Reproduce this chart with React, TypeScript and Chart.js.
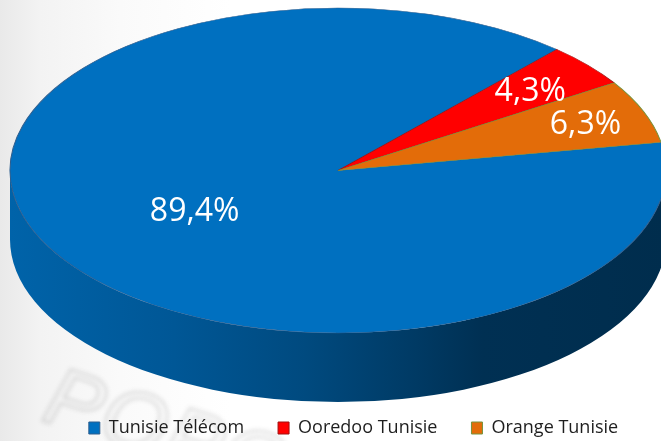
import React, { useEffect, useRef } from 'react';
import { Chart, registerables } from 'chart.js';

Chart.register(...registerables);

// ---- data ----
const categories = ['Tunisie Télécom', 'Ooredoo Tunisie', 'Orange Tunisie'];
const shares = [89.4, 4.3, 6.3];
const valueLabels = ['89,4%', '4,3%', '6,3%'];
const sliceColors = ['#0070C0', '#FF0000', '#E36C09'];
const edgeColors = ['#2E5E8E', '#A01010', '#77933C'];

// ---- 3D projection of the pie (view settings) ----
const VIEW = { cx: 338, cy: 170.5, rx: 328, ry: 162.5, depth: 69 };
const LABEL_RADIUS = [0.5, 0.77, 0.81];

function shade(hex: string, f: number) {
  const n = parseInt(hex.slice(1), 16);
  const r = Math.round(((n >> 16) & 255) * f);
  const g = Math.round(((n >> 8) & 255) * f);
  const b = Math.round((n & 255) * f);
  return `rgb(${r},${g},${b})`;
}

const pie3d = {
  id: 'pie3d',
  beforeDatasetsDraw(chart: any) {
    const ctx = chart.ctx as CanvasRenderingContext2D;
    const arcs = chart.getDatasetMeta(0).data;
    if (!arcs.length) return;
    const { cx, cy, rx, ry, depth } = VIEW;
    arcs.forEach((arc: any, i: number) => {
      const { startAngle, endAngle } = arc.getProps(['startAngle', 'endAngle'], true);
      for (let k = -1; k <= 2; k++) {
        const a0 = Math.max(startAngle, 2 * Math.PI * k);
        const a1 = Math.min(endAngle, 2 * Math.PI * k + Math.PI);
        if (a1 <= a0) continue;
        ctx.save();
        ctx.beginPath();
        ctx.ellipse(cx, cy, rx, ry, 0, a0, a1, false);
        ctx.lineTo(cx + rx * Math.cos(a1), cy + ry * Math.sin(a1) + depth);
        ctx.ellipse(cx, cy + depth, rx, ry, 0, a1, a0, true);
        ctx.closePath();
        const g = ctx.createLinearGradient(cx - rx, 0, cx + rx, 0);
        const base = sliceColors[i];
        g.addColorStop(0, shade(base, 0.88));
        g.addColorStop(0.25, shade(base, 0.78));
        g.addColorStop(0.45, shade(base, 0.66));
        g.addColorStop(0.62, shade(base, 0.52));
        g.addColorStop(0.72, shade(base, 0.43));
        g.addColorStop(1, shade(base, 0.4));
        ctx.fillStyle = g;
        ctx.fill();
        ctx.restore();
      }
    });
    const { x, y, outerRadius } = arcs[0].getProps(['x', 'y', 'outerRadius'], true);
    ctx.save();
    ctx.translate(cx, cy);
    ctx.scale(rx / outerRadius, ry / outerRadius);
    ctx.translate(-x, -y);
  },
  afterDatasetsDraw(chart: any) {
    const ctx = chart.ctx as CanvasRenderingContext2D;
    const arcs = chart.getDatasetMeta(0).data;
    if (!arcs.length) return;
    ctx.restore();
    const { cx, cy, rx, ry } = VIEW;
    ctx.save();
    ctx.font = '32px "Open Sans"';
    ctx.fillStyle = '#ffffff';
    ctx.textAlign = 'center';
    ctx.textBaseline = 'alphabetic';
    arcs.forEach((arc: any, i: number) => {
      const { startAngle, endAngle } = arc.getProps(['startAngle', 'endAngle'], true);
      const mid = (startAngle + endAngle) / 2;
      const f = LABEL_RADIUS[i];
      const px = cx + f * rx * Math.cos(mid);
      const py = cy + f * ry * Math.sin(mid);
      ctx.fillText(valueLabels[i], px, py + 11.5);
    });
    ctx.restore();
  },
};

export default function App() {
  const ref = useRef<HTMLCanvasElement>(null);
  useEffect(() => {
    const baseLabels = (Chart as any).overrides.doughnut.plugins.legend.labels.generateLabels;
    const chart = new Chart(ref.current!, {
      type: 'pie',
      data: {
        labels: categories,
        datasets: [
          {
            data: shares,
            backgroundColor: sliceColors,
            borderColor: edgeColors,
            borderWidth: 0.6,
            clip: false as any,
          },
        ],
      },
      options: {
        responsive: false,
        animation: false,
        events: [],
        rotation: 80,
        layout: { padding: { left: 46, bottom: -6, top: 0, right: 0 } },
        plugins: {
          tooltip: { enabled: false },
          legend: {
            position: 'bottom',
            labels: {
              boxWidth: 11,
              boxHeight: 12,
              padding: 34,
              color: '#1e1e1e',
              font: { family: '"Open Sans"', size: 18 },
              generateLabels: (c: any) =>
                baseLabels(c).map((l: any) => ({ ...l, lineWidth: 1 })),
            },
          },
        },
      },
      plugins: [pie3d],
    });
    return () => chart.destroy();
  }, []);

  return (
    <div
      style={{
        position: 'fixed',
        left: 0,
        top: 0,
        width: 661,
        height: 441,
        overflow: 'hidden',
        background:
          'linear-gradient(to right, #e9e9e9 0px, #f3f3f3 40px, #fafafa 120px, #ffffff 230px)',
      }}
    >
      <div
        aria-hidden="true"
        style={{
          position: 'absolute',
          left: 62,
          top: 352,
          fontSize: 84,
          fontFamily: '"Liberation Sans", sans-serif',
          fontStyle: 'italic',
          color: 'transparent',
          WebkitTextStroke: '2px rgba(40,40,40,0.2)',
          filter: 'blur(2px)',
          transform: 'rotate(18deg)',
          transformOrigin: 'left top',
          letterSpacing: 2,
          lineHeight: 1,
        }}
      >
        POPO
      </div>
      <canvas
        ref={ref}
        width={661}
        height={441}
        style={{ position: 'absolute', left: 0, top: 0, width: 661, height: 441 }}
      />
    </div>
  );
}
